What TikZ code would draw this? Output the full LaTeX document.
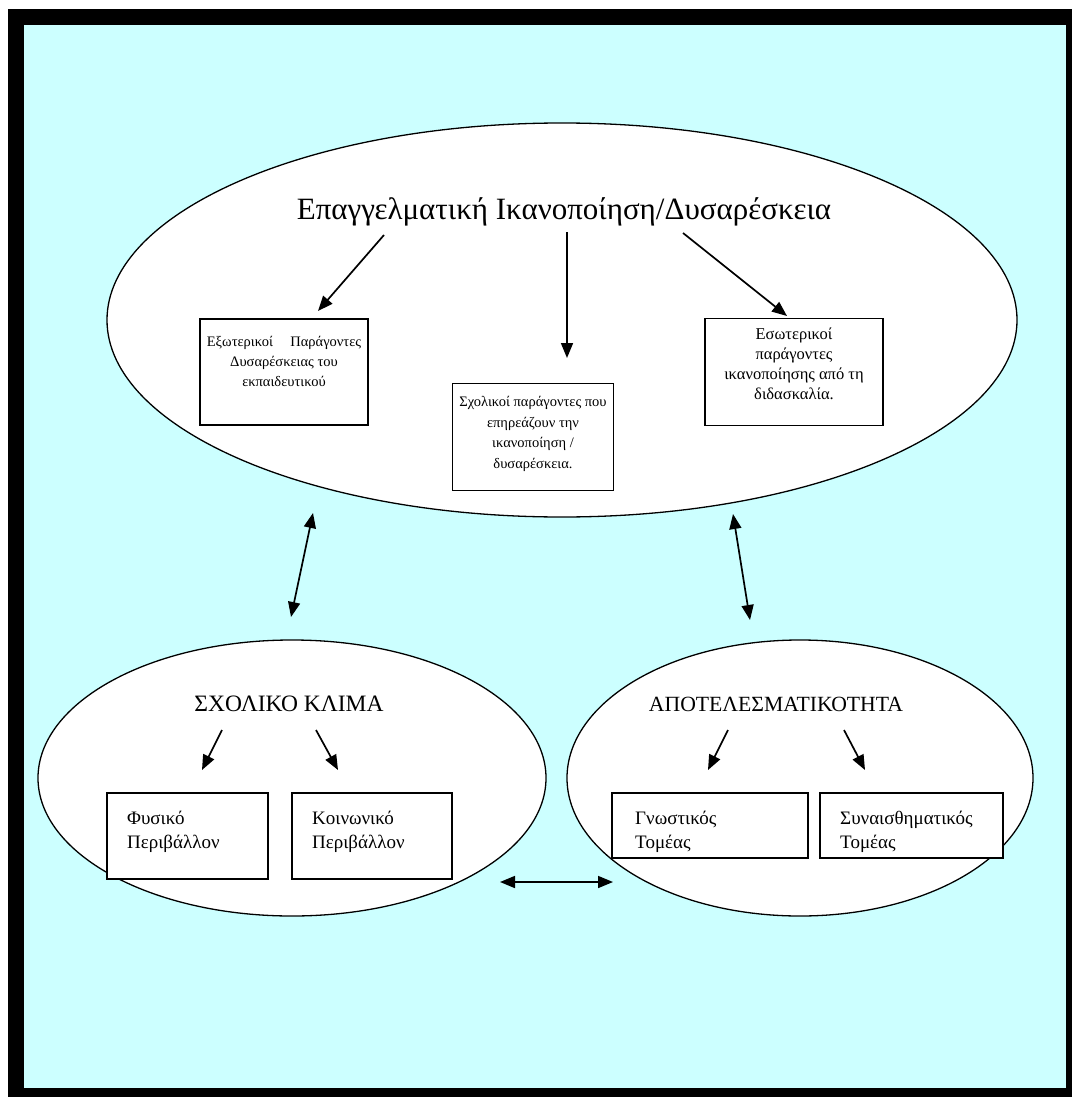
\documentclass[tikz,border=0pt]{standalone}
\usepackage{fontspec}
\setmainfont{Liberation Serif}
\usetikzlibrary{arrows.meta,shapes.geometric}
\definecolor{bgcyan}{HTML}{CCFFFF}
\begin{document}
\begin{tikzpicture}[x=1pt,y=-1pt,
  ell/.style={ellipse,draw=black,fill=white,line width=1.3pt,inner sep=0pt},
  boxst/.style={draw=black,fill=white,line width=1.5pt,inner sep=0pt},
  smalltxt/.style={align=center,font=\fontsize{16.5}{20}\selectfont,inner sep=0pt},
  lowtxt/.style={align=left,font=\fontsize{19}{23.5}\selectfont,inner sep=0pt,anchor=west},
  arr/.style={line width=1.7pt,-{Triangle[length=15pt,width=12pt]}},
  darr/.style={line width=1.7pt,{Triangle[length=15pt,width=12pt]}-{Triangle[length=15pt,width=12pt]}}]
\useasboundingbox (0,0) rectangle (1073,1097);
% frame
\fill[black] (8,9) rectangle (1072,1097);
\fill[bgcyan] (24,25) rectangle (1066,1088);
% ellipses
\node[ell,minimum width=910pt,minimum height=394pt] (top) at (562,320) {};
\node[ell,minimum width=508pt,minimum height=276pt] (left) at (292,778) {};
\node[ell,minimum width=466pt,minimum height=276pt] (right) at (800,778) {};
% top title
\node[font=\fontsize{31}{35}\selectfont,inner sep=0pt] (title) at (564,212) {Επαγγελματική Ικανοποίηση/Δυσαρέσκεια};
% boxes in top ellipse
\node[boxst,minimum width=168pt,minimum height=106pt] (b1) at (284,372) {};
\node[smalltxt,font=\fontsize{14.5}{20}\selectfont] (b1t) at (284,361) {Εξωτερικοί\hspace{1.2em}Παράγοντες\\Δυσαρέσκειας του\\εκπαιδευτικού};
\node[boxst,minimum width=161pt,minimum height=107pt] (b2) at (533,437) {};
\node[smalltxt,font=\fontsize{14.5}{20.5}\selectfont] (b2t) at (533,434) {Σχολικοί παράγοντες που\\επηρεάζουν την\\ικανοποίηση /\\δυσαρέσκεια.};
\node[boxst,minimum width=178pt,minimum height=107pt] (b3) at (794,372) {};
\node[smalltxt] (b3t) at (794,364) {Εσωτερικοί\\παράγοντες\\ικανοποίησης από τη\\διδασκαλία.};
% arrows from title
\coordinate (t1) at (384,235); \coordinate (h1) at (318,311);
\coordinate (t2) at (567,232); \coordinate (h2) at (567,358);
\coordinate (t3) at (683,233); \coordinate (h3) at (787,316);
\draw[arr] (t1) -- (h1);
\draw[arr] (t2) -- (h2);
\draw[arr] (t3) -- (h3);
% bidirectional arrows
\coordinate (d1a) at (313,513); \coordinate (d1b) at (291,617);
\coordinate (d2a) at (733,514); \coordinate (d2b) at (750,620);
\draw[darr] (d1a) -- (d1b);
\draw[darr] (d2a) -- (d2b);
% bottom titles
\node[font=\fontsize{23.5}{26}\selectfont,inner sep=0pt] (lt) at (289,704) {ΣΧΟΛΙΚΟ ΚΛΙΜΑ};
\node[font=\fontsize{21.7}{24}\selectfont,inner sep=0pt] (rt) at (776,704) {ΑΠΟΤΕΛΕΣΜΑΤΙΚΟΤΗΤΑ};
% bottom boxes
\node[boxst,minimum width=161pt,minimum height=86pt] (c1) at (187.5,836) {};
\node[lowtxt] (c1t) at (127,832) {Φυσικό\\Περιβάλλον};
\node[boxst,minimum width=160pt,minimum height=86pt] (c2) at (372,836) {};
\node[lowtxt] (c2t) at (312,832) {Κοινωνικό\\Περιβάλλον};
\node[boxst,minimum width=196pt,minimum height=65pt] (c3) at (710,825.5) {};
\node[lowtxt] (c3t) at (635,832) {Γνωστικός\\Τομέας};
\node[boxst,minimum width=183pt,minimum height=65pt] (c4) at (911.5,825.5) {};
\node[lowtxt] (c4t) at (840,832) {Συναισθηματικός\\Τομέας};
% bottom arrows
\coordinate (e1a) at (222,730); \coordinate (e1b) at (202,770);
\coordinate (e2a) at (316,730); \coordinate (e2b) at (338,770);
\coordinate (e3a) at (728,730); \coordinate (e3b) at (708,770);
\coordinate (e4a) at (844,730); \coordinate (e4b) at (865,770);
\draw[arr] (e1a) -- (e1b);
\draw[arr] (e2a) -- (e2b);
\draw[arr] (e3a) -- (e3b);
\draw[arr] (e4a) -- (e4b);
% horizontal double arrow
\coordinate (ha) at (500,882); \coordinate (hb) at (613,882);
\draw[darr] (ha) -- (hb);
\end{tikzpicture}
\end{document}
